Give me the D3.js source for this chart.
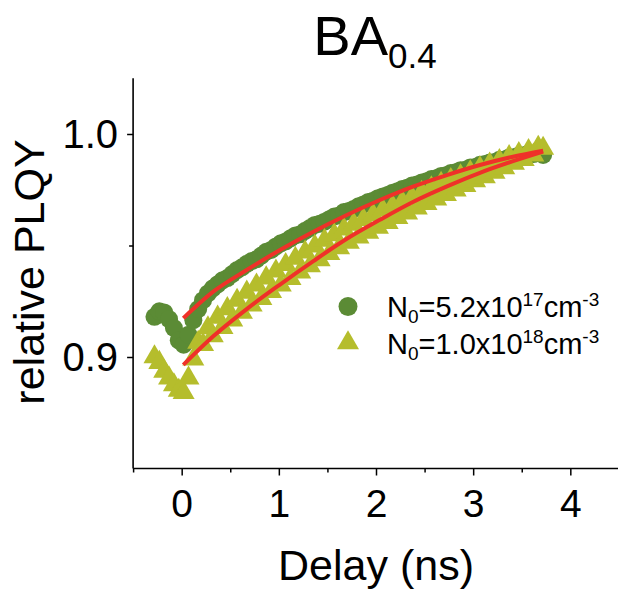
<!DOCTYPE html>
<html>
<head>
<meta charset="utf-8">
<script src="https://cdn.jsdelivr.net/npm/d3@7/dist/d3.min.js"></script>
<style>
  html, body { margin: 0; padding: 0; background: #fff; }
  svg { display: block; }
  text { font-family: "Liberation Sans", Arial, Helvetica, sans-serif; fill: #000; }
</style>
</head>
<body>
<div id="chart"></div>
<script>
// ---------------- data ----------------
const delay = [
  -0.28, -0.23, -0.18, -0.13, -0.08, -0.03, 0.02, 0.07, 0.12, 0.17,
  0.22, 0.27, 0.32, 0.37, 0.42, 0.47, 0.52, 0.57, 0.62, 0.67,
  0.72, 0.77, 0.82, 0.87, 0.92, 0.97, 1.02, 1.07, 1.12, 1.17,
  1.22, 1.27, 1.32, 1.37, 1.42, 1.47, 1.52, 1.57, 1.62, 1.67,
  1.72, 1.77, 1.82, 1.87, 1.92, 1.97, 2.02, 2.07, 2.12, 2.17,
  2.22, 2.27, 2.32, 2.37, 2.42, 2.47, 2.52, 2.57, 2.62, 2.67,
  2.72, 2.77, 2.82, 2.87, 2.92, 2.97, 3.02, 3.07, 3.12, 3.17,
  3.22, 3.27, 3.32, 3.37, 3.42, 3.47, 3.52, 3.57, 3.62, 3.67,
  3.72
];
// N0 = 5.2x10^17 cm^-3 (circles)
const circleVals = [
  0.9180, 0.9205, 0.9200, 0.9170, 0.9130, 0.9075, 0.9055, 0.9100, 0.9165, 0.9215,
  0.9255, 0.9285, 0.9308, 0.9326, 0.9344, 0.9354, 0.9372, 0.9390, 0.9402, 0.9418,
  0.9430, 0.9438, 0.9455, 0.9472, 0.9480, 0.9496, 0.9510, 0.9518, 0.9532, 0.9545,
  0.9550, 0.9566, 0.9578, 0.9592, 0.9597, 0.9607, 0.9618, 0.9630, 0.9635, 0.9650,
  0.9655, 0.9664, 0.9676, 0.9684, 0.9695, 0.9701, 0.9712, 0.9720, 0.9727, 0.9737,
  0.9743, 0.9753, 0.9759, 0.9769, 0.9773, 0.9782, 0.9788, 0.9798, 0.9802, 0.9812,
  0.9815, 0.9825, 0.9828, 0.9838, 0.9840, 0.9850, 0.9852, 0.9862, 0.9865, 0.9872,
  0.9875, 0.9884, 0.9886, 0.9895, 0.9896, 0.9904, 0.9905, 0.9912, 0.9910, 0.9915,
  0.9906
];
// N0 = 1.0x10^18 cm^-3 (triangles)
const triangleVals = [
  0.9000, 0.8975, 0.8935, 0.8905, 0.8875, 0.8850, 0.8840, 0.8905, 0.8990, 0.9065,
  0.9055, 0.9130, 0.9095, 0.9178, 0.9132, 0.9216, 0.9165, 0.9254, 0.9200, 0.9290,
  0.9232, 0.9322, 0.9262, 0.9354, 0.9293, 0.9385, 0.9322, 0.9414, 0.9351, 0.9442,
  0.9380, 0.9470, 0.9408, 0.9497, 0.9436, 0.9523, 0.9463, 0.9548, 0.9489, 0.9573,
  0.9514, 0.9595, 0.9537, 0.9616, 0.9559, 0.9637, 0.9581, 0.9658, 0.9602, 0.9675,
  0.9625, 0.9695, 0.9645, 0.9715, 0.9668, 0.9738, 0.9688, 0.9758, 0.9708, 0.9778,
  0.9728, 0.9795, 0.9748, 0.9812, 0.9768, 0.9830, 0.9790, 0.9848, 0.9808, 0.9865,
  0.9828, 0.9880, 0.9848, 0.9898, 0.9868, 0.9912, 0.9885, 0.9925, 0.9905, 0.9940,
  0.9935
];
// fitted curves (red)
const fitX        = [0.017, 0.325, 0.669, 1.012, 1.355, 1.70, 2.04, 2.38, 2.73, 3.07, 3.41, 3.72];
const fitCircle   = [0.9174, 0.9293, 0.9390, 0.9480, 0.9562, 0.9637, 0.9704, 0.9764, 0.9816, 0.9861, 0.9898, 0.9925];
const fitTriangle = [0.8965, 0.9093, 0.9215, 0.9325, 0.9430, 0.9530, 0.9615, 0.9695, 0.9765, 0.9826, 0.9878, 0.9921];

const xMajorTicks = [0, 1, 2, 3, 4];
const xMinorTicks = [-0.5, 0.5, 1.5, 2.5, 3.5, 4.5];
const yMajorTicks = [0.9, 1.0];
const yMinorTicks = [0.95];
const yTickLabels = ["0.9", "1.0"];

// ---------------- drawing ----------------
const W = 618, H = 591;
const colCircle = "#5b8b35", colTri = "#b5bd2c", colFit = "#ef3129";

const svg = d3.select("#chart").append("svg").attr("width", W).attr("height", H);

const x = d3.scaleLinear().domain([-0.5, 4.5]).range([133.1, 618.9]);
const y = d3.scaleLinear().domain([0.85, 1.025]).range([468.5, 78.25]);

// title
const title = svg.append("text").attr("x", 375).attr("y", 55).attr("text-anchor", "middle");
title.append("tspan").attr("font-size", 56).text("BA");
title.append("tspan").attr("font-size", 35).attr("dy", 13).text("0.4");

// axes
const axisG = svg.append("g").attr("stroke", "#000").attr("fill", "none").attr("stroke-width", 1.6);
axisG.append("line").attr("x1", x(-0.5)).attr("x2", x(4.5)).attr("y1", y(0.85)).attr("y2", y(0.85));
axisG.append("line").attr("x1", x(-0.5)).attr("x2", x(-0.5)).attr("y1", y(0.85)).attr("y2", y(1.025));

const xAxisMajor = d3.axisBottom(x).tickValues(xMajorTicks).tickSize(7).tickFormat(d3.format("d")).tickPadding(8);
const xAxisMinor = d3.axisBottom(x).tickValues(xMinorTicks).tickSize(4).tickFormat("");
const gxMin = svg.append("g").attr("transform", `translate(0,${y(0.85)})`).call(xAxisMinor);
const gx = svg.append("g").attr("transform", `translate(0,${y(0.85)})`).call(xAxisMajor);
[gx, gxMin].forEach(g => {
  g.select(".domain").remove();
  g.selectAll(".tick line").attr("stroke", "#000").attr("stroke-width", 1.5);
});
gx.selectAll(".tick text").attr("font-size", 39).attr("font-family", "Liberation Sans, Arial, sans-serif")
  .attr("fill", "#000").attr("dy", null).attr("y", 48);

const yAxisMajor = d3.axisLeft(y).tickValues(yMajorTicks).tickSize(6).tickPadding(10)
  .tickFormat((d, i) => yTickLabels[i]);
const yAxisMinor = d3.axisLeft(y).tickValues(yMinorTicks).tickSize(4).tickFormat("");
const gyMin = svg.append("g").attr("transform", `translate(${x(-0.5)},0)`).call(yAxisMinor);
const gy = svg.append("g").attr("transform", `translate(${x(-0.5)},0)`).call(yAxisMajor);
[gy, gyMin].forEach(g => {
  g.select(".domain").remove();
  g.selectAll(".tick line").attr("stroke", "#000").attr("stroke-width", 1.5);
});
gy.selectAll(".tick text").attr("font-size", 40).attr("font-family", "Liberation Sans, Arial, sans-serif")
  .attr("fill", "#000").attr("dy", "0.33em").attr("x", -15);

// axis titles
svg.append("text").attr("x", 376).attr("y", 580).attr("text-anchor", "middle")
  .attr("font-size", 43).text("Delay (ns)");
svg.append("text").attr("transform", "translate(44,272) rotate(-90)").attr("text-anchor", "middle")
  .attr("font-size", 43).text("relative PLQY");

// data
const circPts = delay.map((d, i) => [d, circleVals[i]]);
const triPts = delay.map((d, i) => [d, triangleVals[i]]);

svg.append("g").selectAll("circle").data(circPts).join("circle")
  .attr("cx", d => x(d[0])).attr("cy", d => y(d[1])).attr("r", 9).attr("fill", colCircle);

const triSym = d3.symbol().type(d3.symbolTriangle).size(210);
svg.append("g").selectAll("path").data(triPts).join("path")
  .attr("d", triSym).attr("transform", d => `translate(${x(d[0])},${y(d[1])})`).attr("fill", colTri);

const line = d3.line().x(d => x(d[0])).y(d => y(d[1])).curve(d3.curveMonotoneX);
svg.append("path").datum(fitX.map((d, i) => [d, fitCircle[i]]))
  .attr("d", line).attr("fill", "none").attr("stroke", colFit).attr("stroke-width", 4);
svg.append("path").datum(fitX.map((d, i) => [d, fitTriangle[i]]))
  .attr("d", line).attr("fill", "none").attr("stroke", colFit).attr("stroke-width", 4);

// legend
const legend = svg.append("g");
legend.append("circle").attr("cx", 348).attr("cy", 306.5).attr("r", 9.5).attr("fill", colCircle);
legend.append("path").attr("d", d3.symbol().type(d3.symbolTriangle).size(210))
  .attr("transform", "translate(348,343)").attr("fill", colTri);

function legendText(yBase, mant, exp) {
  const t = legend.append("text").attr("x", 387).attr("y", yBase).attr("font-size", 29);
  t.append("tspan").text("N");
  t.append("tspan").attr("font-size", 19).attr("dy", 6).text("0");
  t.append("tspan").attr("dy", -6).text("=" + mant + "x10");
  t.append("tspan").attr("font-size", 19).attr("dy", -11).text(exp);
  t.append("tspan").attr("dy", 11).text("cm");
  t.append("tspan").attr("font-size", 19).attr("dy", -11).text("-3");
}
legendText(317, "5.2", "17");
legendText(354, "1.0", "18");
</script>
</body>
</html>
